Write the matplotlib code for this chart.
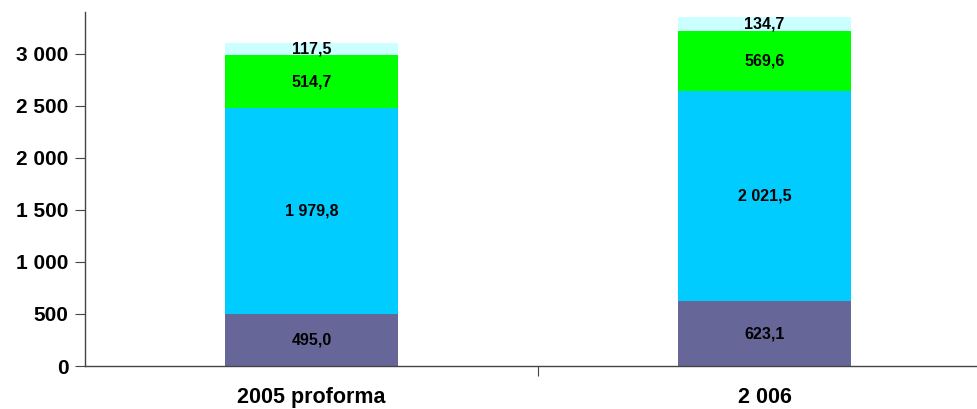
import matplotlib
matplotlib.use("Agg")
import matplotlib.pyplot as plt

categories = ["2005 proforma", "2 006"]
series_1 = [495.0, 623.1]
series_2 = [1979.8, 2021.5]
series_3 = [514.7, 569.6]
series_4 = [117.5, 134.7]
y_ticks = [0, 500, 1000, 1500, 2000, 2500, 3000]

colors = ["#666699", "#00CCFF", "#00FF00", "#CCFFFF"]
plt.rcParams["font.family"] = ["Liberation Sans", "DejaVu Sans"]


def fmt(v, decimals=1):
    s = f"{v:,.{decimals}f}"
    return s.replace(",", " ").replace(".", ",")


fig = plt.figure(figsize=(9.77, 4.09), dpi=100)
ax = fig.add_axes([85 / 977, 1 - 366 / 409, 906 / 977, 354 / 409])

x = list(range(len(categories)))
bottom = [0.0] * len(categories)
for vals, col in zip([series_1, series_2, series_3, series_4], colors):
    ax.bar(x, vals, width=0.384, bottom=bottom, color=col, edgecolor="none")
    for xi, b, v in zip(x, bottom, vals):
        ax.text(xi, b + v / 2, fmt(v), ha="center", va="center",
                fontsize=11.5, fontweight="bold", color="black")
    bottom = [b + v for b, v in zip(bottom, vals)]

ax.set_xlim(-0.5, 1.5)
ax.set_ylim(0, 3400)
ax.set_yticks(y_ticks)
ax.set_yticklabels([fmt(t, 0) for t in y_ticks], fontsize=15, fontweight="bold")
ax.set_xticks([0.5])
ax.set_xticklabels([""])
ax.tick_params(axis="x", direction="out", length=7, color="#444444")
ax.tick_params(axis="y", direction="out", length=7, color="#444444", pad=5)
for xi, c in zip(x, categories):
    ax.text(xi, -0.09, c, transform=ax.get_xaxis_transform(), ha="center",
            va="center", fontsize=15.5, fontweight="bold")

for side in ["top", "right"]:
    ax.spines[side].set_visible(False)
for side in ["left", "bottom"]:
    ax.spines[side].set_color("#444444")
    ax.spines[side].set_linewidth(1)

fig.savefig("out.png", dpi=100)
